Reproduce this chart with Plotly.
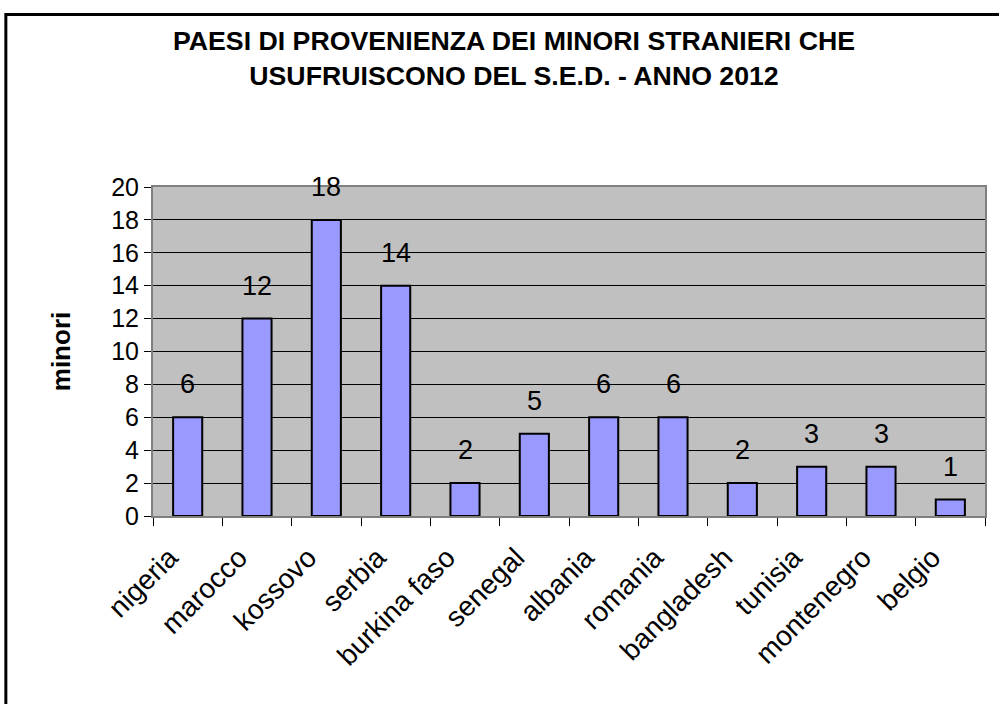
import plotly.graph_objects as go

categories = ["nigeria", "marocco", "kossovo", "serbia", "burkina faso", "senegal",
              "albania", "romania", "bangladesh", "tunisia", "montenegro", "belgio"]
values = [6, 12, 18, 14, 2, 5, 6, 6, 2, 3, 3, 1]
y_ticks = [0, 2, 4, 6, 8, 10, 12, 14, 16, 18, 20]

FONT = "Liberation Sans, Arial, sans-serif"
W, H = 999, 704
L, R, T, B = 153, 12, 187, 188
PW = W - L - R
PH = H - T - B

fig = go.Figure()
fig.add_trace(go.Bar(
    x=categories, y=values,
    marker=dict(color="#9999FF", line=dict(color="black", width=2)),
    hoverinfo="x+y",
))

for c, v in zip(categories, values):
    fig.add_annotation(x=c, y=v, text=str(v), showarrow=False, yshift=33,
                       font=dict(family=FONT, size=27, color="black"))

fig.add_annotation(
    xref="paper", yref="paper",
    x=(61 - L) / PW, y=1 - (352 - T) / PH,
    text="<b>minori</b>", textangle=-90, showarrow=False,
    xanchor="center", yanchor="middle",
    font=dict(family=FONT, size=26, color="black"),
)

fig.update_layout(
    width=W, height=H,
    margin=dict(l=L, r=R, t=T, b=B),
    paper_bgcolor="white",
    plot_bgcolor="#C0C0C0",
    bargap=0.58,
    showlegend=False,
    font=dict(family=FONT, color="black"),
    title=dict(
        text="<b>PAESI DI PROVENIENZA DEI MINORI STRANIERI CHE<br>USUFRUISCONO DEL S.E.D. - ANNO 2012</b>",
        x=514 / W, xanchor="center", y=1 - 50 / H, yanchor="middle",
        font=dict(family=FONT, size=26.7, color="black"),
    ),
    xaxis=dict(
        type="category",
        tickangle=-45,
        tickfont=dict(family=FONT, size=28, color="black"),
        ticks="outside", tickson="boundaries", ticklen=8, tickcolor="black", tickwidth=1,
        ticklabelstandoff=12, ticklabelshift=-18,
        showline=True, linecolor="#808080", linewidth=2, mirror=True,
        showgrid=False,
    ),
    yaxis=dict(
        range=[0, 20],
        tickvals=y_ticks,
        tickfont=dict(family=FONT, size=25, color="black"),
        ticks="outside", ticklen=7, tickcolor="black", tickwidth=1,
        showline=True, linecolor="#808080", linewidth=2, mirror=True,
        showgrid=True, gridcolor="black", gridwidth=1,
        zeroline=False,
    ),
    shapes=[dict(
        type="rect", xref="paper", yref="paper",
        x0=(5.5 - L) / PW, x1=1.2,
        y0=-1.0, y1=1 + (T - 14.5) / PH,
        line=dict(color="black", width=3), fillcolor="rgba(0,0,0,0)", layer="above",
    )],
)

fig.write_html("out.html", config={"displayModeBar": False},
               post_script="document.body.style.margin='0';")
